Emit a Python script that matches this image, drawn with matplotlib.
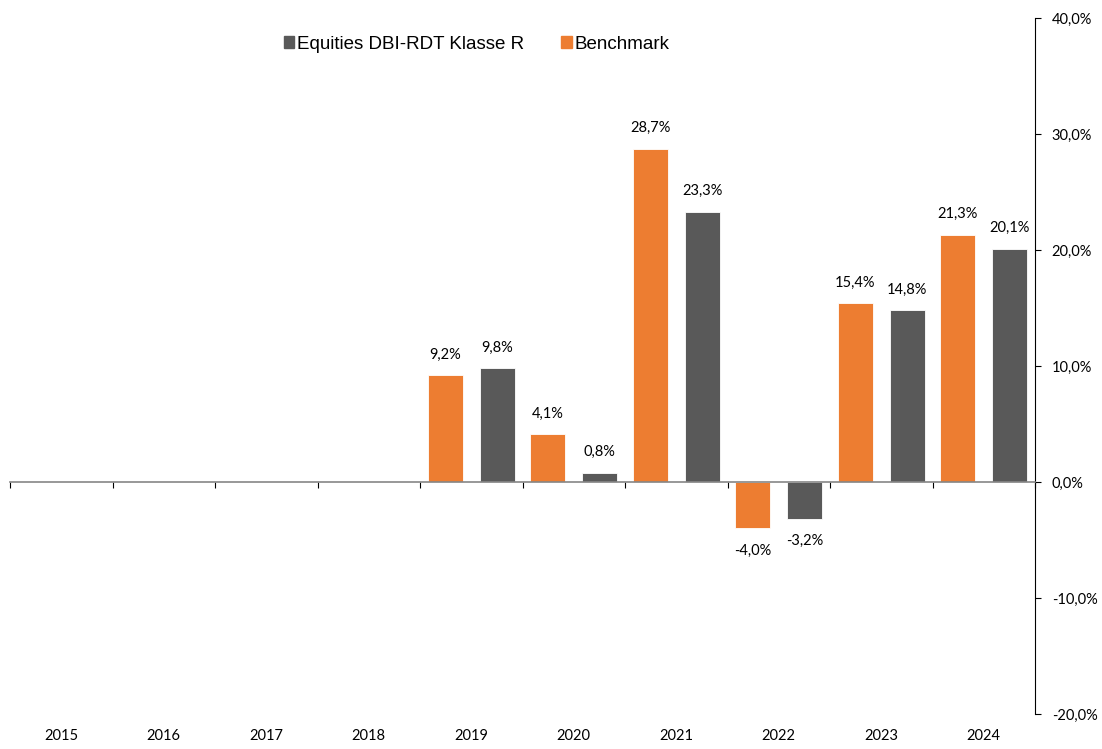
import numpy as np
import matplotlib
matplotlib.use("Agg")
import matplotlib.pyplot as plt
import matplotlib.transforms as mtransforms
from matplotlib.patches import Patch

years = ["2015", "2016", "2017", "2018", "2019", "2020", "2021", "2022", "2023", "2024"]
fund = [np.nan, np.nan, np.nan, np.nan, 9.8, 0.8, 23.3, -3.2, 14.8, 20.1]
benchmark = [np.nan, np.nan, np.nan, np.nan, 9.2, 4.1, 28.7, -4.0, 15.4, 21.3]

fund_name = "Equities DBI-RDT Klasse R"
bench_name = "Benchmark"

GREY = "#595959"
ORANGE = "#ED7D31"
label_font = "Lato"
fs = 10.5


def pct(v):
    return f"{v:.1f}%".replace(".", ",")


fig = plt.figure(figsize=(11.02, 7.49), dpi=100)
ax = fig.add_axes([10 / 1102, 35 / 749, 1025 / 1102, 696 / 749])

x = np.arange(len(years))
w = 0.345
off = 0.254
ax.bar(x - off, benchmark, w, color=ORANGE, edgecolor="white", linewidth=0.6)
ax.bar(x + off, fund, w, color=GREY, edgecolor="white", linewidth=0.6)

# data labels
for xs, vals in ((x - off, benchmark), (x + off, fund)):
    for xi, v in zip(xs, vals):
        if np.isnan(v):
            continue
        dy = 15 if v >= 0 else -16
        ax.annotate(pct(v), (xi, v), xytext=(0, dy), textcoords="offset points",
                    ha="center", va="center", fontsize=fs, family=label_font,
                    color="#000000")

ax.set_xlim(-0.5, len(years) - 0.5)
ax.set_ylim(-20, 40)

# right-hand value axis
ax.yaxis.tick_right()
ax.set_yticks(np.arange(-20, 41, 10))
ax.set_yticklabels([pct(v) for v in np.arange(-20, 41, 10)], family=label_font, fontsize=fs)
ax.tick_params(axis="y", direction="out", length=4, width=0.8, pad=8, color="#000000")

for s in ("top", "left"):
    ax.spines[s].set_visible(False)
ax.spines["right"].set_color("#000000")
ax.spines["right"].set_linewidth(0.8)
ax.spines["bottom"].set_position(("data", 0))
ax.spines["bottom"].set_color("#868686")
ax.spines["bottom"].set_linewidth(1.2)

# category boundary ticks on the zero line
ax.set_xticks(np.arange(-0.5, len(years), 1.0))
ax.set_xticklabels([])
ax.tick_params(axis="x", direction="out", length=4, width=0.8, color="#000000")

# year labels along the bottom of the plot area
trans = mtransforms.blended_transform_factory(ax.transData, ax.transAxes)
for xi, yr in zip(x, years):
    ax.text(xi, -0.031, yr, transform=trans, ha="center", va="center",
            fontsize=fs, family=label_font)

handles = [Patch(color=GREY, label=fund_name), Patch(color=ORANGE, label=bench_name)]
fig.legend(handles=handles, loc="center", bbox_to_anchor=(0.4325, 0.941), ncol=2,
           frameon=False, prop={"family": "Liberation Sans", "size": 13.5},
           handlelength=0.55, handleheight=0.55, handletextpad=0.15, columnspacing=2.0)

fig.savefig("out.png", dpi=100)
